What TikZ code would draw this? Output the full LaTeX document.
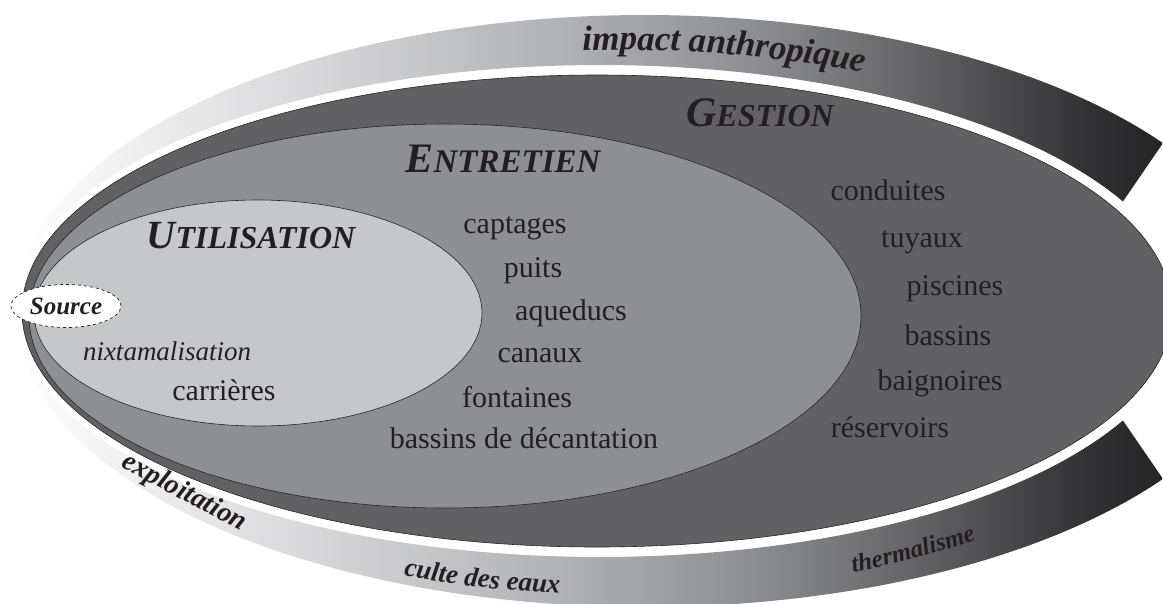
\documentclass[tikz,border=0pt]{standalone}
\usepackage{fontspec}
\setmainfont{Liberation Serif}
\usetikzlibrary{decorations.text,shapes.geometric}
\definecolor{gest}{RGB}{97,97,99}
\definecolor{entr}{RGB}{142,143,147}
\definecolor{util}{RGB}{198,199,201}
\definecolor{ink}{RGB}{35,31,32}
\definecolor{bandA}{RGB}{218,218,220}
\definecolor{bandB}{RGB}{176,177,180}
\definecolor{bandC}{RGB}{142,143,146}
\definecolor{bandD}{RGB}{104,104,106}
\definecolor{bandE}{RGB}{74,74,76}
\definecolor{bandF}{RGB}{48,48,50}
\definecolor{bandG}{RGB}{37,37,38}
\pgfdeclarehorizontalshading{bandshade}{100bp}{color(0bp)=(white); color(25bp)=(white); color(37bp)=(bandA); color(49bp)=(bandB); color(57bp)=(bandC); color(63.5bp)=(bandD); color(68bp)=(bandE); color(72bp)=(bandF); color(75bp)=(bandG); color(100bp)=(bandG)}
\begin{document}
\begin{tikzpicture}[x=1pt,y=-1pt,
  lbl/.style={font=\fontsize{30}{30}\selectfont, text=ink, anchor=base, inner sep=0pt},
  titlelbl/.style={font=\bfseries\itshape, text=ink, anchor=base, inner sep=0pt},
  zone/.style={draw=black!85, line width=0.6pt},
  bandlbl/.style={font=\bfseries\itshape\fontsize{#1}{#1}\selectfont, text=ink, inner sep=0pt},
]
\useasboundingbox (0,0) rectangle (1163,603);
\clip (0,0) rectangle (1163,603);

% gradient bands
\shade[shading=bandshade] plot[domain=180:34.56, samples=150] ({645+629*cos(\x)},{311-296*sin(\x)})
  -- plot[domain=26.43:180, samples=150] ({600+584*cos(\x)},{311-246*sin(\x)}) -- cycle;
\shade[shading=bandshade] plot[domain=180:34.56, samples=150] ({645+629*cos(\x)},{311+296*sin(\x)})
  -- plot[domain=26.43:180, samples=150] ({600+584*cos(\x)},{311+246*sin(\x)}) -- cycle;

% nested zones
\filldraw[zone, fill=gest] (597,311) ellipse [x radius=575pt, y radius=236pt];
\filldraw[zone, fill=entr] (445,316) ellipse [x radius=416pt, y radius=192pt];
\filldraw[zone, fill=util] (258,313) ellipse [x radius=224pt, y radius=113pt];

% band texts
\path[decorate, decoration={text along path, text align=center, text color=ink,
  text={|\bfseries\itshape\fontsize{35}{35}\selectfont|impact anthropique}}]
  plot[domain=99.5:59.5, samples=80] ({620+600*cos(\x)},{311-261*sin(\x)});
\node[bandlbl=28, rotate=-28] (expl) at (184,493) {exploitation};
\path[decorate, decoration={text along path, text align=center, text color=ink,
  text={|\bfseries\itshape\fontsize{27}{27}\selectfont|culte des eaux}}]
  plot[domain=124:84, samples=80] ({620+600*cos(\x)},{311+284*sin(\x)});
\path[decorate, decoration={text along path, text align=center, text color=ink,
  text={|\bfseries\itshape\fontsize{25}{25}\selectfont|thermalisme}}]
  plot[domain=72:48, samples=80] ({620+600*cos(\x)},{311+284*sin(\x)});

% titles
\node[titlelbl] (util) at (251,248) {{\fontsize{40}{40}\selectfont U}{\fontsize{32}{32}\selectfont TILISATION}};
\node[titlelbl] (entr) at (503,172) {{\fontsize{42}{42}\selectfont E}{\fontsize{33}{33}\selectfont NTRETIEN}};
\node[titlelbl] (gest) at (760,126) {{\fontsize{42}{42}\selectfont G}{\fontsize{32}{32}\selectfont ESTION}};

% source
\node[ellipse, draw=ink, dashed, fill=white, line width=0.7pt, minimum width=110pt, minimum height=43pt, inner sep=0pt,
  font=\bfseries\itshape\fontsize{25}{25}\selectfont, text=ink] (source) at (66,306) {Source};

% utilisation items
\node[lbl, font=\itshape\fontsize{27}{27}\selectfont] (nixt) at (167,360) {nixtamalisation};
\node[lbl] (carr) at (224,400) {carrières};

% entretien items
\node[lbl] (capt) at (515,233) {captages};
\node[lbl] (puit) at (533,277) {puits};
\node[lbl] (aque) at (571,320) {aqueducs};
\node[lbl] (cana) at (540,362) {canaux};
\node[lbl] (font) at (517,407) {fontaines};
\node[lbl] (bdec) at (524,448) {bassins de décantation};

% gestion items
\node[lbl] (cond) at (888,200) {conduites};
\node[lbl] (tuya) at (922,247) {tuyaux};
\node[lbl] (pisc) at (955,295) {piscines};
\node[lbl] (bass) at (948,345) {bassins};
\node[lbl] (baig) at (940,390) {baignoires};
\node[lbl] (rese) at (890,437) {réservoirs};
\end{tikzpicture}
\end{document}
